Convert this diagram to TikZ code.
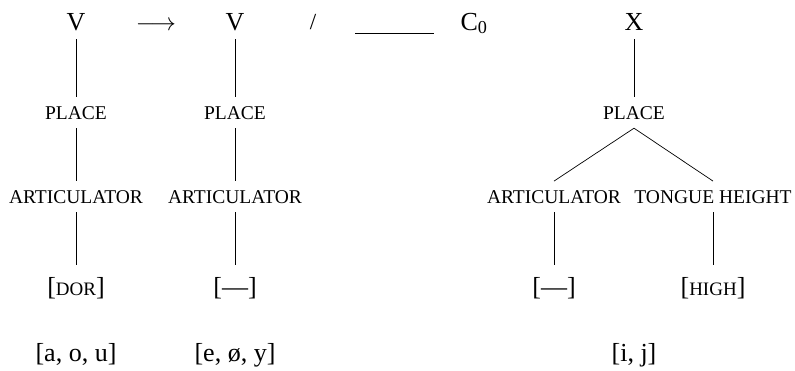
\documentclass[tikz,border=0pt]{standalone}
\usepackage{fontspec}
\setmainfont{Liberation Serif}
\newcommand{\smc}[1]{{\fontsize{19}{19}\selectfont #1}}
\begin{document}
\begin{tikzpicture}[x=1pt,y=-1pt,
  txt/.style={font=\fontsize{26}{26}\selectfont, inner xsep=0pt, inner ysep=9pt, outer sep=0pt, anchor=base},
  feat/.style={txt, font=\fontsize{19.5}{19.5}\selectfont},
  brk/.style={txt, inner ysep=12pt},
  edge/.style={draw, line width=0.7pt}
]
\useasboundingbox (0,0) rectangle (795,370);
% top row
\node[txt] (v1) at (76,30) {V};
\node[txt] (arr) at (156,30) {$\longrightarrow$};
\node[txt] (v2) at (235,30) {V};
\node[txt,font=\fontsize{23}{23}\selectfont] (sl) at (313,29) {/};
\coordinate (bl1) at (355,33);
\coordinate (bl2) at (434,33);
\draw[edge] (bl1) -- (bl2);
\node[txt] (c0) at (474,30) {C\textsubscript{0}};
\node[txt] (x) at (634,30) {X};
% column 1
\node[feat] (p1) at (76,119) {PLACE};
\node[feat] (a1) at (76,203) {ARTICULATOR};
\node[brk] (d1) at (76,295) {[\smc{DOR}]};
\node[txt] (s1) at (76,361) {[a, o, u]};
% column 2
\node[feat] (p2) at (235,119) {PLACE};
\node[feat] (a2) at (235,203) {ARTICULATOR};
\node[brk] (d2) at (235,295) {[—]};
\node[txt] (s2) at (235,361) {[e, ø, y]};
% column 3
\node[feat] (p3) at (634,119) {PLACE};
\node[feat] (a3) at (554,203) {ARTICULATOR};
\node[feat] (t3) at (713,203) {TONGUE HEIGHT};
\node[brk] (d3) at (554,295) {[—]};
\node[brk] (h3) at (713,295) {[\smc{HIGH}]};
\node[txt] (s3) at (634,361) {[i, j]};
% connectors
\draw[edge] (v1.south) -- (p1.north);
\draw[edge] (p1.south) -- (a1.north);
\draw[edge] (a1.south) -- (d1.north);
\draw[edge] (v2.south) -- (p2.north);
\draw[edge] (p2.south) -- (a2.north);
\draw[edge] (a2.south) -- (d2.north);
\draw[edge] (x.south) -- (p3.north);
\draw[edge] (p3.south) -- (a3.north);
\draw[edge] (p3.south) -- (t3.north);
\draw[edge] (a3.south) -- (d3.north);
\draw[edge] (t3.south) -- (h3.north);
\end{tikzpicture}
\end{document}
